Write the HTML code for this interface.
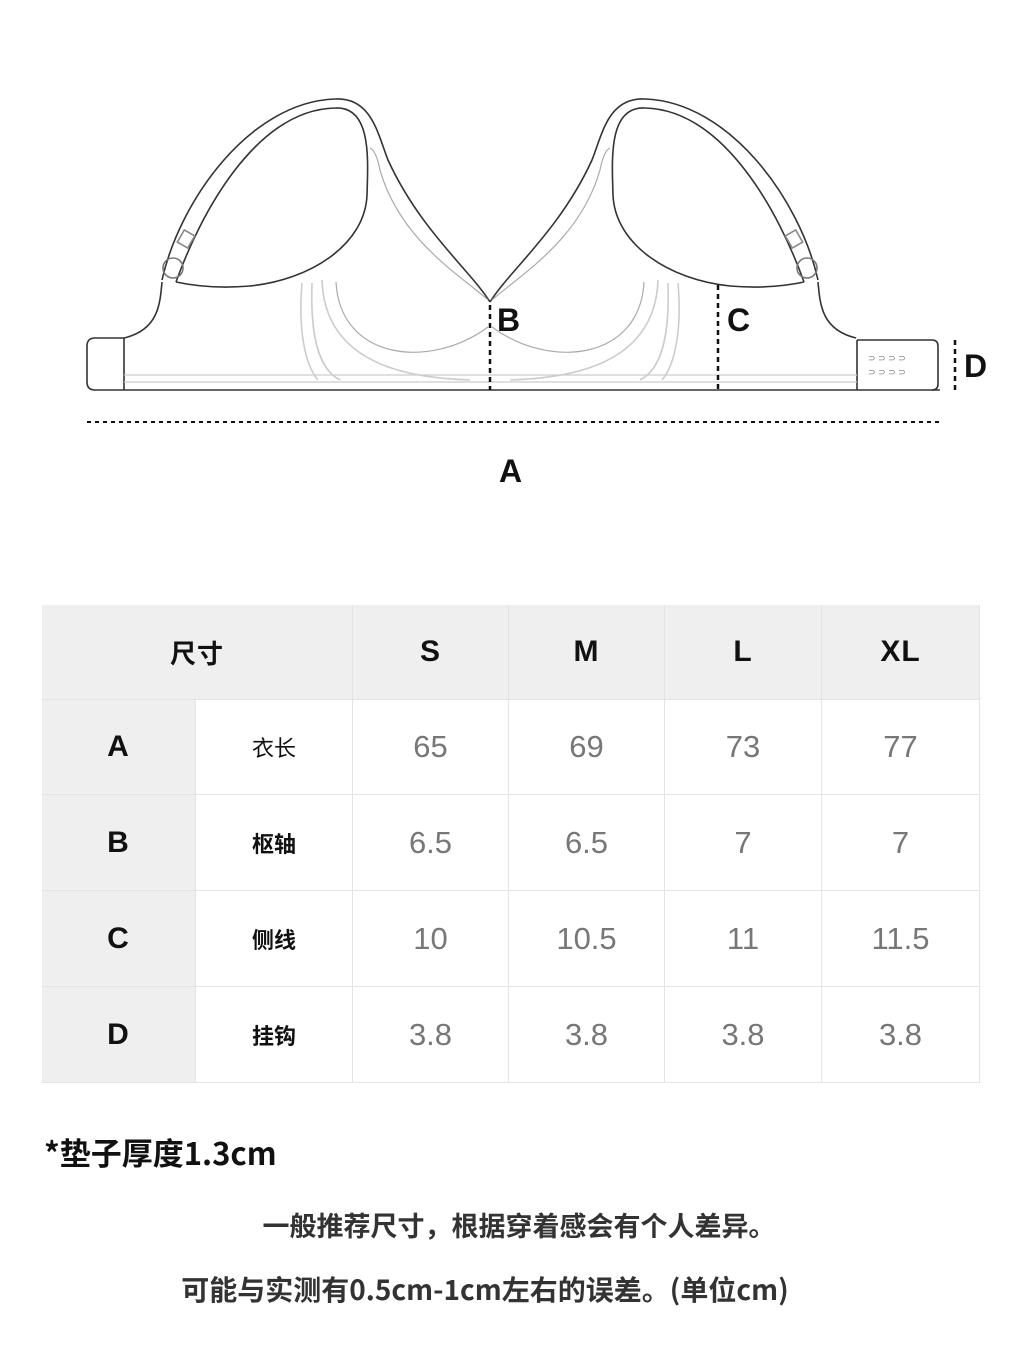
<!DOCTYPE html>
<html><head><meta charset="utf-8"><style>
body{margin:0;width:1024px;height:1365px;background:#fff;position:relative;overflow:hidden;font-family:"Liberation Sans","Noto Sans CJK SC",sans-serif}
.c{position:absolute;display:flex;align-items:center;justify-content:center;box-sizing:border-box;border-right:1px solid #e4e4e4;border-bottom:1px solid #e4e4e4}
.g{background:#efefef}
.h{font-weight:bold;font-size:30px;color:#111;letter-spacing:1px}
.n{font-size:31px;color:#777}
.z{font-size:22px;color:#111;font-family:"Noto Sans CJK SC",sans-serif}
.t{position:absolute;font-family:"Noto Sans CJK SC",sans-serif;font-weight:bold;color:#333}
</style></head><body>
<svg width="1024" height="560" style="position:absolute;left:0;top:0" fill="none">
<g id="L" stroke="#333" stroke-width="1.6">
<path d="M162,280 C180,200 250,102 335,99 C372,97 378,135 388,160 C420,230 470,270 490,302"/>
<path d="M176,282 C200,215 255,110 335,108 C372,106 368,160 367,195 C365,245 310,280 250,286 C215,289 190,285 176,282"/>
<path d="M162,282 C160,305 158,330 124,338"/>
<path d="M370,148 C375,150 378,160 380,170 C400,240 460,275 488,300" stroke="#aaa" stroke-width="1.2"/>
<circle cx="173" cy="268" r="10" stroke="#777"/>
<rect x="180" y="232" width="12" height="14" stroke="#888" transform="rotate(30 186 239)"/>
<path d="M336,282 C340,360 430,370 488,327" stroke="#aaa" stroke-width="1.2"/>
<path d="M322,280 C325,370 420,378 470,380" stroke="#ccc"/>
<path d="M312,283 C310,340 320,370 340,380" stroke="#ccc"/>
<path d="M302,283 C298,330 305,365 318,380" stroke="#ccc"/>
</g>
<use href="#L" transform="translate(980,0) scale(-1,1)"/>
<g stroke="#333" stroke-width="1.6">
<path d="M124,338 L95,338 Q87,338 87,346 L87,382 Q87,390 95,390 L940,390"/>
<path d="M124,338 L124,390"/>
<path d="M857,340 L932,340 Q938,340 938,346 L938,384 Q938,390 932,390"/>
<path d="M857,340 L857,390"/>
</g>
<g stroke="#ccc" stroke-width="1.2"><path d="M124,375 L857,375 M124,382 L857,382"/></g>
<g fill="#777" font-size="9" font-family="Liberation Sans">
<text x="868" y="361">⊃ ⊃ ⊃ ⊃</text><text x="868" y="375">⊃ ⊃ ⊃ ⊃</text></g>
<g stroke="#111" stroke-width="2.5" stroke-dasharray="5,4">
<path d="M490,305 V390 M718,285 V390 M955,340 V392"/>
<path d="M87,422 H940" stroke-width="2" stroke-dasharray="4,4"/>
</g>
<g font-family="Liberation Sans" font-weight="bold" font-size="32" fill="#111">
<text x="497" y="331">B</text><text x="727" y="331">C</text><text x="964" y="377">D</text><text x="499" y="482">A</text>
</g>
</svg>

<div class="c g h z" style="left:42px;top:605px;width:311px;height:95px;font-size:26px;font-weight:bold">尺寸</div>
<div class="c g h" style="left:353px;top:605px;width:156px;height:95px">S</div>
<div class="c g h" style="left:509px;top:605px;width:156px;height:95px">M</div>
<div class="c g h" style="left:665px;top:605px;width:157px;height:95px">L</div>
<div class="c g h" style="left:822px;top:605px;width:158px;height:95px">XL</div>

<div class="c g h" style="left:42px;top:700px;width:154px;height:95px">A</div>
<div class="c z" style="left:196px;top:700px;width:157px;height:95px">衣长</div>
<div class="c n" style="left:353px;top:700px;width:156px;height:95px">65</div>
<div class="c n" style="left:509px;top:700px;width:156px;height:95px">69</div>
<div class="c n" style="left:665px;top:700px;width:157px;height:95px">73</div>
<div class="c n" style="left:822px;top:700px;width:158px;height:95px">77</div>

<div class="c g h" style="left:42px;top:795px;width:154px;height:96px">B</div>
<div class="c z" style="left:196px;top:795px;width:157px;height:96px;font-weight:bold">枢轴</div>
<div class="c n" style="left:353px;top:795px;width:156px;height:96px">6.5</div>
<div class="c n" style="left:509px;top:795px;width:156px;height:96px">6.5</div>
<div class="c n" style="left:665px;top:795px;width:157px;height:96px">7</div>
<div class="c n" style="left:822px;top:795px;width:158px;height:96px">7</div>

<div class="c g h" style="left:42px;top:891px;width:154px;height:96px">C</div>
<div class="c z" style="left:196px;top:891px;width:157px;height:96px;font-weight:bold">侧线</div>
<div class="c n" style="left:353px;top:891px;width:156px;height:96px">10</div>
<div class="c n" style="left:509px;top:891px;width:156px;height:96px">10.5</div>
<div class="c n" style="left:665px;top:891px;width:157px;height:96px">11</div>
<div class="c n" style="left:822px;top:891px;width:158px;height:96px">11.5</div>

<div class="c g h" style="left:42px;top:987px;width:154px;height:96px">D</div>
<div class="c z" style="left:196px;top:987px;width:157px;height:96px;font-weight:bold">挂钩</div>
<div class="c n" style="left:353px;top:987px;width:156px;height:96px">3.8</div>
<div class="c n" style="left:509px;top:987px;width:156px;height:96px">3.8</div>
<div class="c n" style="left:665px;top:987px;width:157px;height:96px">3.8</div>
<div class="c n" style="left:822px;top:987px;width:158px;height:96px">3.8</div>

<div class="t" style="left:44px;top:1130px;font-size:31px;color:#111;line-height:44px">*垫子厚度1.3cm</div>
<div class="t" style="left:0;width:1038px;top:1204px;font-size:27px;text-align:center;line-height:42px">一般推荐尺寸，根据穿着感会有个人差异。</div>
<div class="t" style="left:0;width:970px;top:1268px;font-size:28px;text-align:center;line-height:42px">可能与实测有0.5cm-1cm左右的误差。(单位cm)</div>
</body></html>
